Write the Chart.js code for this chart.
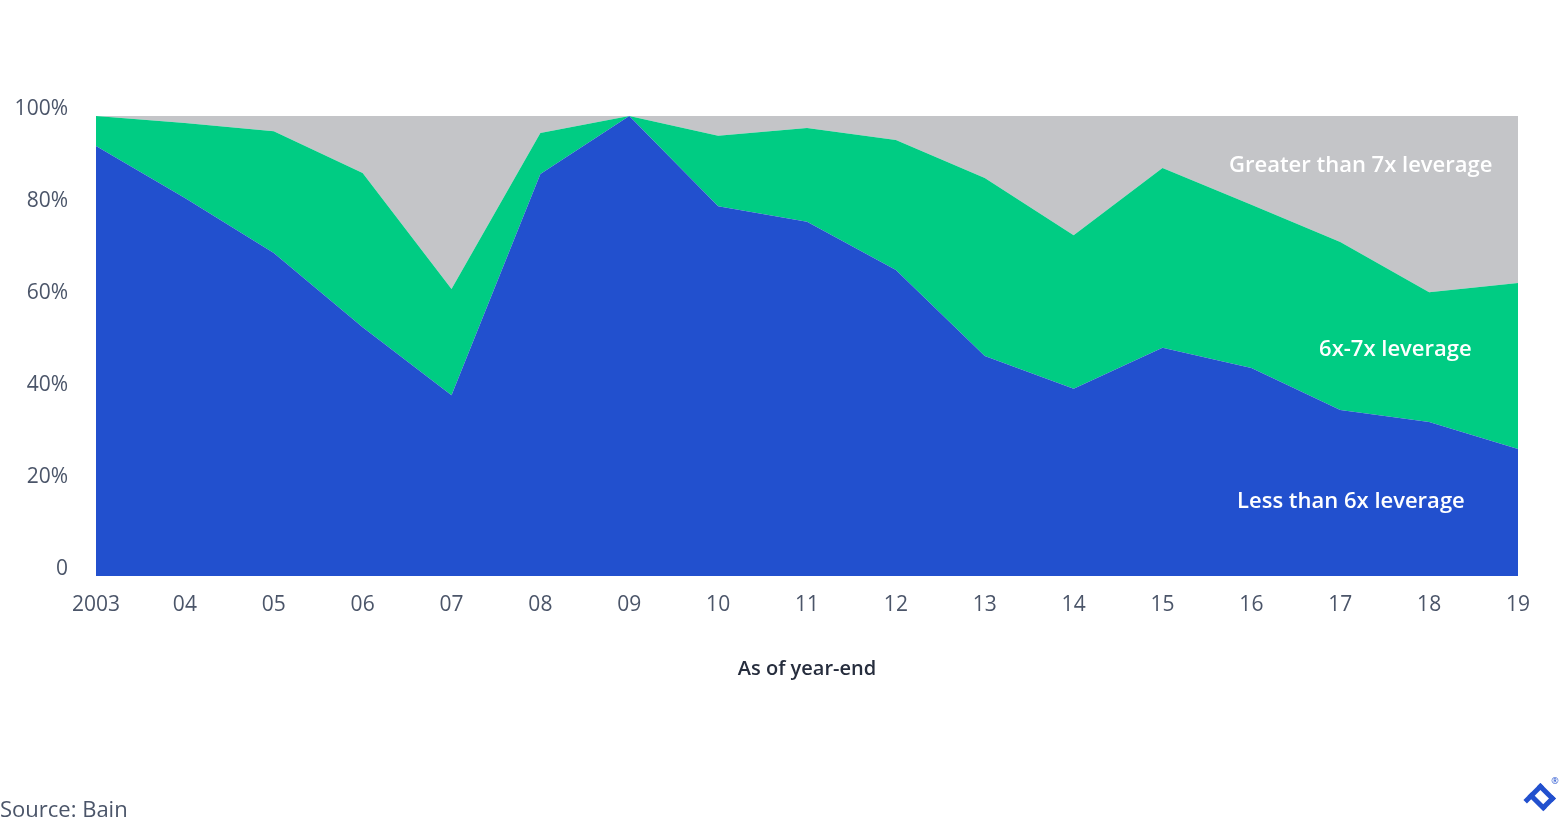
<!DOCTYPE html>
<html>
<head>
<meta charset="utf-8">
<script src="https://cdn.jsdelivr.net/npm/chart.js@4"></script>
<style>
  html, body { margin: 0; padding: 0; background: #fff; }
  #wrap { position: relative; width: 1560px; height: 820px; }
  #source { position: absolute; left: 0; top: 793px; font-family: "Open Sans", Lato, sans-serif; font-size: 22px; color: #4b5569; }
</style>
</head>
<body>
<div id="wrap">
  <canvas id="c" width="1560" height="820"></canvas>
  <div id="source">Source: Bain</div>
</div>
<script>
const categories = ["2003","04","05","06","07","08","09","10","11","12","13","14","15","16","17","18","19"];
const lessThan6x = [93.5, 82.2, 70.2, 54.1, 39.3, 87.4, 100, 80.4, 77.0, 66.5, 47.8, 40.7, 49.6, 45.2, 36.1, 33.5, 27.6];
const between6x7x = [6.5, 16.3, 26.5, 33.5, 23.1, 8.9, 0, 15.3, 20.4, 28.3, 38.7, 33.4, 39.1, 35.5, 36.5, 28.2, 36.1];
const greaterThan7x = [0, 1.5, 3.3, 12.4, 37.6, 3.7, 0, 4.3, 2.6, 5.2, 13.5, 25.9, 11.3, 19.3, 27.4, 38.3, 36.3];
const yTicks = [0, 20, 40, 60, 80, 100];
const seriesNames = ["Less than 6x leverage", "6x-7x leverage", "Greater than 7x leverage"];

const FONT = '"Open Sans", Lato, sans-serif';
const TEXT = '#4b5569';

const areaLabels = {
  id: 'areaLabels',
  afterDatasetsDraw(chart) {
    const {ctx, scales: {x, y}} = chart;
    const items = [
      {t: seriesNames[2], xi: 14.23, yv: 89.2},
      {t: seriesNames[1], xi: 14.62, yv: 49.2},
      {t: seriesNames[0], xi: 14.12, yv: 16.1}
    ];
    ctx.save();
    ctx.fillStyle = '#ffffff';
    ctx.font = '600 22px ' + FONT;
    ctx.textAlign = 'center';
    ctx.textBaseline = 'middle';
    items.forEach(it => {
      ctx.fillText(it.t, x.getPixelForValue(it.xi), y.getPixelForValue(it.yv));
    });
    ctx.restore();
  }
};

const logo = {
  id: 'logo',
  afterDraw(chart) {
    const ctx = chart.ctx;
    ctx.save();
    ctx.translate(1539, 800);
    ctx.rotate(Math.PI / 4);
    ctx.fillStyle = '#2250ce';
    ctx.fillRect(-11, -13, 22, 5);
    ctx.fillRect(-11, -13, 5, 24);
    ctx.fillRect(6, -13, 5, 17);
    ctx.fillRect(-11, 0, 22, 5);
    ctx.restore();
    ctx.save();
    ctx.fillStyle = '#2250ce';
    ctx.font = '9px ' + FONT;
    ctx.textAlign = 'center';
    ctx.textBaseline = 'middle';
    ctx.fillText('\u00AE', 1555, 781);
    ctx.restore();
  }
};

new Chart(document.getElementById('c'), {
  type: 'line',
  data: {
    labels: categories,
    datasets: [
      {label: seriesNames[0], data: lessThan6x, backgroundColor: '#2250ce', borderWidth: 0, fill: 'origin', pointRadius: 0, tension: 0},
      {label: seriesNames[1], data: between6x7x, backgroundColor: '#00cc83', borderWidth: 0, fill: '-1', pointRadius: 0, tension: 0},
      {label: seriesNames[2], data: greaterThan7x, backgroundColor: '#c4c5c8', borderWidth: 0, fill: '-1', pointRadius: 0, tension: 0}
    ]
  },
  options: {
    responsive: false,
    animation: false,
    events: [],
    layout: {padding: {left: 0, top: 116, right: 42, bottom: 139}},
    plugins: {legend: {display: false}, tooltip: {enabled: false}},
    scales: {
      x: {
        offset: false,
        grid: {display: false, drawTicks: false},
        border: {display: false},
        ticks: {
          autoSkip: false, maxRotation: 0, padding: 16,
          color: TEXT, font: {family: FONT, size: 21}
        },
        title: {
          display: true, text: 'As of year-end', color: '#262d3d',
          font: {family: FONT, size: 20, weight: '600'},
          padding: {top: 0, bottom: 0}
        },
        afterFit(s) { s.height = 105; }
      },
      y: {
        stacked: true,
        min: 0, max: 100,
        afterBuildTicks(s) { s.ticks = yTicks.map(v => ({value: v})); },
        grid: {display: false, drawTicks: false},
        border: {display: false},
        ticks: {
          padding: 28, labelOffset: -7,
          color: TEXT, font: {family: FONT, size: 21},
          callback: v => v === 0 ? '0' : v + '%'
        },
        afterFit(s) { s.width = 96; }
      }
    }
  },
  plugins: [areaLabels, logo]
});
</script>
</body>
</html>
